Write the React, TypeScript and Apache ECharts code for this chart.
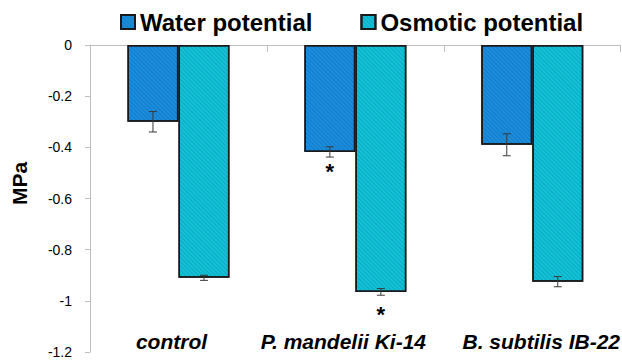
import React, { useEffect, useRef } from "react";
import * as echarts from "echarts";

const categories = ["control", "P. mandelii Ki-14", "B. subtilis IB-22"];
const labelShift = [-7, -12, 9];
const waterPotential = [-0.3, -0.418, -0.39];
const waterErr = [0.04, 0.02, 0.043];
const osmoticPotential = [-0.91, -0.965, -0.925];
const osmoticErr = [0.01, 0.013, 0.02];
const waterSig = [false, true, false];
const osmoticSig = [false, true, false];
const yMin = -1.2;
const yMax = 0;
const yStep = 0.2;

const FONT = "'Liberation Sans', Arial, sans-serif";
const BAR_W = 51;

function errorSeries(values: number[], errs: number[], offset: number) {
  return {
    type: "custom",
    xAxisIndex: 0,
    z: 5,
    silent: true,
    data: values.map((v, i) => [i, v, errs[i]]),
    encode: { x: 0, y: 1 },
    renderItem: (params: any, api: any) => {
      const idx = api.value(0);
      const v = api.value(1);
      const e = api.value(2);
      const top = api.coord([idx, v + e]);
      const bot = api.coord([idx, v - e]);
      const x = top[0] + offset;
      const cap = 4;
      const style = { stroke: "#3a3a3a", lineWidth: 1 };
      return {
        type: "group",
        children: [
          { type: "line", shape: { x1: x, y1: top[1], x2: x, y2: bot[1] }, style },
          { type: "line", shape: { x1: x - cap, y1: top[1], x2: x + cap, y2: top[1] }, style },
          { type: "line", shape: { x1: x - cap, y1: bot[1], x2: x + cap, y2: bot[1] }, style },
        ],
      };
    },
  };
}

function barData(values: number[], sig: boolean[], dist: number) {
  return values.map((v, i) =>
    sig[i]
      ? {
          value: v,
          label: {
            show: true,
            position: "bottom",
            distance: dist,
            formatter: "*",
            fontSize: 22,
            fontWeight: "bold",
            color: "#000",
            fontFamily: FONT,
          },
        }
      : v
  );
}

export default function App() {
  const ref = useRef<HTMLDivElement>(null);
  useEffect(() => {
    if (!ref.current) return;
    const chart = echarts.init(ref.current, undefined, { renderer: "svg" });
    const decal = {
      symbol: "rect",
      dashArrayX: [1, 0],
      dashArrayY: [1, 2],
      rotation: Math.PI / 4,
      color: "rgba(0, 40, 120, 0.18)",
    };
    chart.setOption({
      animation: false,
      backgroundColor: "#fff",
      legend: {
        data: ["Water potential", "Osmotic potential"],
        left: 115,
        top: 5,
        icon: "rect",
        itemWidth: 14,
        itemHeight: 14,
        itemGap: 48,
        textStyle: { fontSize: 24, fontWeight: "bold", color: "#000", fontFamily: FONT },
      },
      grid: { left: 90, top: 45, width: 537, height: 307, containLabel: false },
      xAxis: [
        {
          type: "category",
          position: "top",
          data: categories,
          axisLine: { show: true, lineStyle: { color: "#bfbfbf", width: 1 } },
          axisTick: { show: true, inside: true, length: 7, lineStyle: { color: "#bfbfbf" } },
          axisLabel: { show: false },
          splitLine: { show: false },
        },
        {
          type: "category",
          position: "bottom",
          data: categories.map((c, i) => ({
            value: c,
            textStyle: {
              padding: labelShift[i] < 0 ? [0, -2 * labelShift[i], 0, 0] : [0, 0, 0, 2 * labelShift[i]],
            },
          })),
          axisLine: { show: false },
          axisTick: { show: false },
          axisLabel: {
            interval: 0,
            hideOverlap: false,
            margin: -21,
            fontSize: 21,
            fontWeight: "bold",
            fontStyle: "italic",
            color: "#000",
            fontFamily: FONT,
          },
          splitLine: { show: false },
        },
      ],
      yAxis: {
        type: "value",
        min: yMin,
        max: yMax,
        interval: yStep,
        name: "MPa",
        nameLocation: "middle",
        nameRotate: 90,
        nameGap: 60,
        nameTextStyle: {
          fontSize: 21,
          fontWeight: "bold",
          color: "#000",
          fontFamily: FONT,
          padding: [0, 0, 0, 30],
        },
        axisLine: { show: true, lineStyle: { color: "#bfbfbf", width: 1 } },
        axisTick: { show: true, length: 5, lineStyle: { color: "#bfbfbf" } },
        axisLabel: { margin: 18, fontSize: 14, color: "#000", fontFamily: FONT },
        splitLine: { show: false },
      },
      series: [
        {
          name: "Water potential",
          type: "bar",
          xAxisIndex: 0,
          barWidth: BAR_W,
          barGap: "0%",
          data: barData(waterPotential, waterSig, 9),
          itemStyle: { color: "#1a8ddb", borderColor: "#1a1a1a", borderWidth: 1.5, decal },
        },
        {
          name: "Osmotic potential",
          type: "bar",
          xAxisIndex: 0,
          barWidth: BAR_W,
          barGap: "0%",
          data: barData(osmoticPotential, osmoticSig, 12),
          itemStyle: { color: "#12c3d6", borderColor: "#1a1a1a", borderWidth: 1.5, decal },
        },
        errorSeries(waterPotential, waterErr, -BAR_W / 2),
        errorSeries(osmoticPotential, osmoticErr, BAR_W / 2),
      ],
    });
    return () => chart.dispose();
  }, []);
  return <div ref={ref} style={{ position: "absolute", left: 0, top: 0, width: 622, height: 362 }} />;
}
